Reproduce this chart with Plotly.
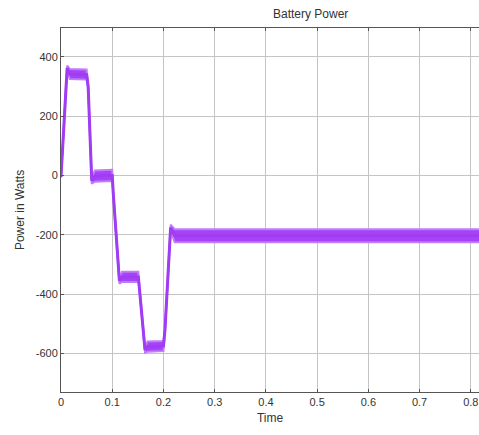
import plotly.graph_objects as go

# Key points (time in s, power in W)
time = [0.0, 0.012, 0.017, 0.050, 0.053, 0.060, 0.066, 0.100, 0.102, 0.114, 0.119,
        0.151, 0.153, 0.164, 0.169, 0.200, 0.203, 0.214, 0.222, 0.82]
power = [-5, 362, 342, 340, 300, -18, -2, 0, -60, -355, -342,
         -342, -380, -588, -577, -575, -520, -176, -203, -203]
# half-width of the ripple band seen around each point (W)
ripple = [3, 8, 17, 17, 4, 10, 19, 19, 4, 10, 17,
          17, 4, 10, 17, 17, 4, 10, 22, 22]

upper = [p + r for p, r in zip(power, ripple)]
lower = [p - r for p, r in zip(power, ripple)]

x_ticks = [0, 0.1, 0.2, 0.3, 0.4, 0.5, 0.6, 0.7, 0.8]
x_tick_labels = ["0", "0.1", "0.2", "0.3", "0.4", "0.5", "0.6", "0.7", "0.8"]
y_ticks = [400, 200, 0, -200, -400, -600]
y_tick_labels = ["400", "200", "0", "-200", "-400", "-600"]

fig = go.Figure()
fig.add_trace(go.Scatter(
    x=time, y=lower, mode="lines",
    line=dict(color="#C27BFA", width=2),
    showlegend=False, hoverinfo="skip",
))
fig.add_trace(go.Scatter(
    x=time, y=upper, mode="lines", fill="tonexty", fillcolor="#A544F7",
    line=dict(color="#C27BFA", width=2),
    showlegend=False, hoverinfo="skip",
))
fig.add_trace(go.Scatter(
    x=time, y=power, mode="lines",
    line=dict(color="#A03CF2", width=3),
    showlegend=False, hoverinfo="skip",
))

font = dict(family="Liberation Sans, Arial, sans-serif", size=11, color="#333333")

pw = 479 - 61
ph = 435 - 28 - 43
fig.update_layout(
    width=479, height=435,
    margin=dict(l=61, r=0, t=28, b=43),
    paper_bgcolor="white", plot_bgcolor="white",
    font=font,
    annotations=[dict(text="Battery Power",
                      x=(310 - 61) / pw, y=(435 - 43 - 14) / ph,
                      xref="paper", yref="paper", xanchor="center", yanchor="middle",
                      showarrow=False,
                      font=dict(family="Liberation Sans, Arial, sans-serif",
                                size=12, color="#333333"))],
)

fig.update_xaxes(
    range=[0, 0.816], tickvals=x_ticks, ticktext=x_tick_labels,
    showgrid=True, gridcolor="#C4C4C4", gridwidth=1,
    showline=True, linecolor="#555555", linewidth=1, mirror="ticks",
    ticks="inside", ticklen=3, tickcolor="#555555",
    zeroline=False,
    title=dict(text="Time", font=dict(size=12, color="#333333"), standoff=6),
)
fig.update_yaxes(
    range=[-730, 497], tickvals=y_ticks, ticktext=y_tick_labels,
    showgrid=True, gridcolor="#C4C4C4", gridwidth=1,
    showline=True, linecolor="#555555", linewidth=1, mirror=False,
    ticks="inside", ticklen=3, tickcolor="#555555",
    zeroline=False,
    title=dict(text="Power in Watts", font=dict(size=12, color="#333333"), standoff=8),
)

fig.write_html("out.html")
